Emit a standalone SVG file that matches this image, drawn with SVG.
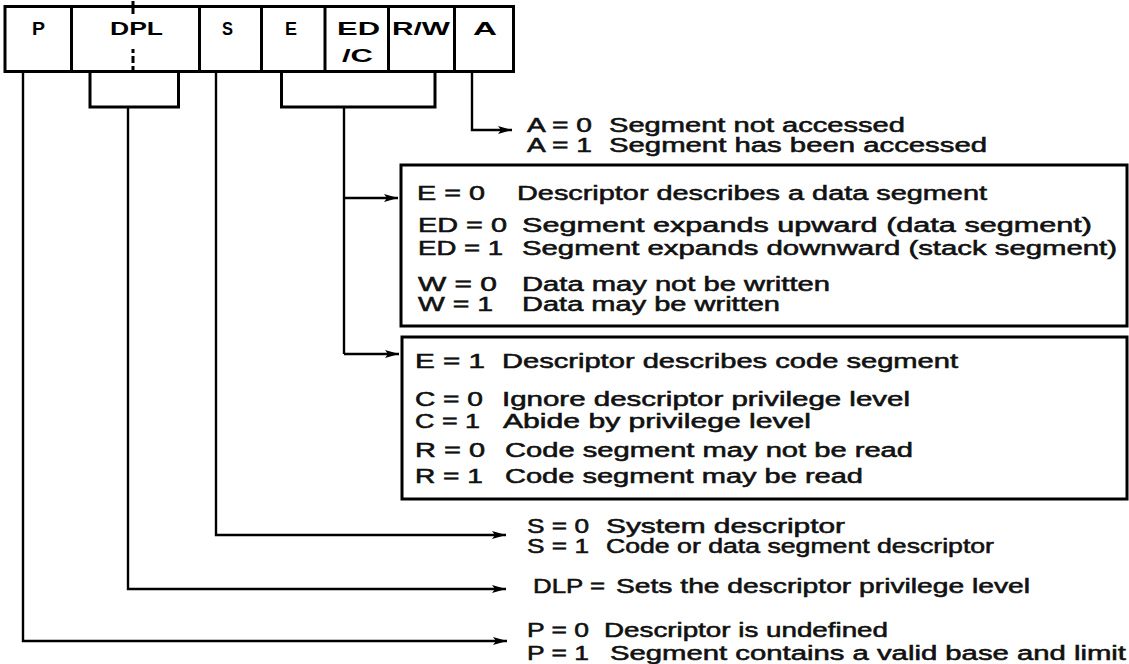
<svg xmlns="http://www.w3.org/2000/svg" width="1129" height="664" viewBox="0 0 1129 664">
<style>
.bg{fill:#fff}
.cell{fill:none;stroke:#000;stroke-width:3}
.ct{font-family:"Liberation Sans",Arial,sans-serif;font-size:18px;font-weight:bold;fill:#000}
.t{font-family:"Liberation Sans",Arial,sans-serif;font-size:20px;fill:#111;stroke:#111;stroke-width:0.55}
.box{fill:none;stroke:#000;stroke-width:3}
.br{fill:none;stroke:#000;stroke-width:3}
.ln{fill:none;stroke:#000;stroke-width:2.4}
.arr{fill:none;stroke:#000;stroke-width:2.4;marker-end:url(#ah)}
</style>
<defs>
<marker id="ah" markerUnits="userSpaceOnUse" markerWidth="15" markerHeight="10" refX="14" refY="5" orient="auto">
<path d="M0,1 L14,5 L0,9 L3,5 z" fill="#000"/>
</marker>
</defs>
<rect class="bg" x="0" y="0" width="1129" height="664"/>

<g id="register">
<rect class="cell" x="5" y="6.5" width="508.5" height="65"/>
<g id="cell-P"><text class="ct" x="32" y="35" textLength="13" lengthAdjust="spacingAndGlyphs">P</text></g>
<g id="cell-DPL">
<line class="cell" x1="71.5" y1="6.5" x2="71.5" y2="71.5"/>
<text class="ct" x="110" y="35" textLength="53" lengthAdjust="spacingAndGlyphs">DPL</text>
<path d="M133,1 V14 M133,49 V53 M133,56 V63 M133,66 V72" stroke="#000" stroke-width="3" fill="none"/>
</g>
<g id="cell-S">
<line class="cell" x1="199.5" y1="6.5" x2="199.5" y2="71.5"/>
<text class="ct" x="222" y="35" textLength="11" lengthAdjust="spacingAndGlyphs">S</text>
</g>
<g id="cell-E">
<line class="cell" x1="261.5" y1="6.5" x2="261.5" y2="71.5"/>
<text class="ct" x="285" y="35" textLength="12" lengthAdjust="spacingAndGlyphs">E</text>
</g>
<g id="cell-EDC">
<line class="cell" x1="325" y1="6.5" x2="325" y2="71.5"/>
<text class="ct" x="337" y="35" textLength="43" lengthAdjust="spacingAndGlyphs">ED</text>
<text class="ct" x="342" y="62" textLength="31" lengthAdjust="spacingAndGlyphs">/C</text>
</g>
<g id="cell-RW">
<line class="cell" x1="388.5" y1="6.5" x2="388.5" y2="71.5"/>
<text class="ct" x="392" y="35" textLength="58" lengthAdjust="spacingAndGlyphs">R/W</text>
</g>
<g id="cell-A">
<line class="cell" x1="454.5" y1="6.5" x2="454.5" y2="71.5"/>
<text class="ct" x="473" y="35" textLength="24" lengthAdjust="spacingAndGlyphs">A</text>
</g>
</g>

<g id="connectors">
<path class="br" d="M90,72 V107 H178.5 V72"/>
<path class="br" d="M281.5,72 V107 H435 V72"/>
<path class="arr" d="M472,73 V130 H512"/>
<path class="ln" d="M344,107 V354"/>
<path class="arr" d="M344,198 H398"/>
<path class="arr" d="M344,354 H399"/>
<path class="arr" d="M216,73 V535 H506"/>
<path class="arr" d="M128,107 V589 H506"/>
<path class="arr" d="M23,73 V641 H507"/>
</g>

<g id="legend-A">
<text class="t" x="527" y="132" textLength="65" lengthAdjust="spacingAndGlyphs">A = 0</text>
<text class="t" x="609" y="132" textLength="296" lengthAdjust="spacingAndGlyphs">Segment not accessed</text>
<text class="t" x="527" y="152" textLength="65" lengthAdjust="spacingAndGlyphs">A = 1</text>
<text class="t" x="609" y="152" textLength="378" lengthAdjust="spacingAndGlyphs">Segment has been accessed</text>
</g>

<g id="legend-data">
<rect class="box" x="401" y="165" width="726" height="161"/>
<text class="t" x="417" y="200" textLength="68" lengthAdjust="spacingAndGlyphs">E = 0</text>
<text class="t" x="517" y="200" textLength="470" lengthAdjust="spacingAndGlyphs">Descriptor describes a data segment</text>
<text class="t" x="418" y="232" textLength="89" lengthAdjust="spacingAndGlyphs">ED = 0</text>
<text class="t" x="522" y="232" textLength="570" lengthAdjust="spacingAndGlyphs">Segment expands upward (data segment)</text>
<text class="t" x="418" y="255" textLength="85" lengthAdjust="spacingAndGlyphs">ED = 1</text>
<text class="t" x="522" y="255" textLength="595" lengthAdjust="spacingAndGlyphs">Segment expands downward (stack segment)</text>
<text class="t" x="418" y="291" textLength="79" lengthAdjust="spacingAndGlyphs">W = 0</text>
<text class="t" x="522" y="291" textLength="308" lengthAdjust="spacingAndGlyphs">Data may not be written</text>
<text class="t" x="418" y="311" textLength="75" lengthAdjust="spacingAndGlyphs">W = 1</text>
<text class="t" x="522" y="311" textLength="258" lengthAdjust="spacingAndGlyphs">Data may be written</text>
</g>

<g id="legend-code">
<rect class="box" x="402" y="337" width="725" height="162"/>
<text class="t" x="415" y="368" textLength="70" lengthAdjust="spacingAndGlyphs">E = 1</text>
<text class="t" x="502" y="368" textLength="456" lengthAdjust="spacingAndGlyphs">Descriptor describes code segment</text>
<text class="t" x="415" y="406" textLength="68" lengthAdjust="spacingAndGlyphs">C = 0</text>
<text class="t" x="502" y="406" textLength="408" lengthAdjust="spacingAndGlyphs">Ignore descriptor privilege level</text>
<text class="t" x="415" y="428" textLength="65" lengthAdjust="spacingAndGlyphs">C = 1</text>
<text class="t" x="503" y="428" textLength="308" lengthAdjust="spacingAndGlyphs">Abide by privilege level</text>
<text class="t" x="415" y="457" textLength="70" lengthAdjust="spacingAndGlyphs">R = 0</text>
<text class="t" x="505" y="457" textLength="408" lengthAdjust="spacingAndGlyphs">Code segment may not be read</text>
<text class="t" x="415" y="483" textLength="68" lengthAdjust="spacingAndGlyphs">R = 1</text>
<text class="t" x="505" y="483" textLength="358" lengthAdjust="spacingAndGlyphs">Code segment may be read</text>
</g>

<g id="legend-S">
<text class="t" x="527" y="533" textLength="62" lengthAdjust="spacingAndGlyphs">S = 0</text>
<text class="t" x="606" y="533" textLength="239" lengthAdjust="spacingAndGlyphs">System descriptor</text>
<text class="t" x="527" y="553" textLength="62" lengthAdjust="spacingAndGlyphs">S = 1</text>
<text class="t" x="606" y="553" textLength="388" lengthAdjust="spacingAndGlyphs">Code or data segment descriptor</text>
</g>

<g id="legend-DPL">
<text class="t" x="533" y="593" textLength="72" lengthAdjust="spacingAndGlyphs">DLP =</text>
<text class="t" x="616" y="593" textLength="414" lengthAdjust="spacingAndGlyphs">Sets the descriptor privilege level</text>
</g>

<g id="legend-P">
<text class="t" x="527" y="637" textLength="62" lengthAdjust="spacingAndGlyphs">P = 0</text>
<text class="t" x="604" y="637" textLength="284" lengthAdjust="spacingAndGlyphs">Descriptor is undefined</text>
<text class="t" x="527" y="660" textLength="62" lengthAdjust="spacingAndGlyphs">P = 1</text>
<text class="t" x="610" y="660" textLength="516" lengthAdjust="spacingAndGlyphs">Segment contains a valid base and limit</text>
</g>
</svg>
